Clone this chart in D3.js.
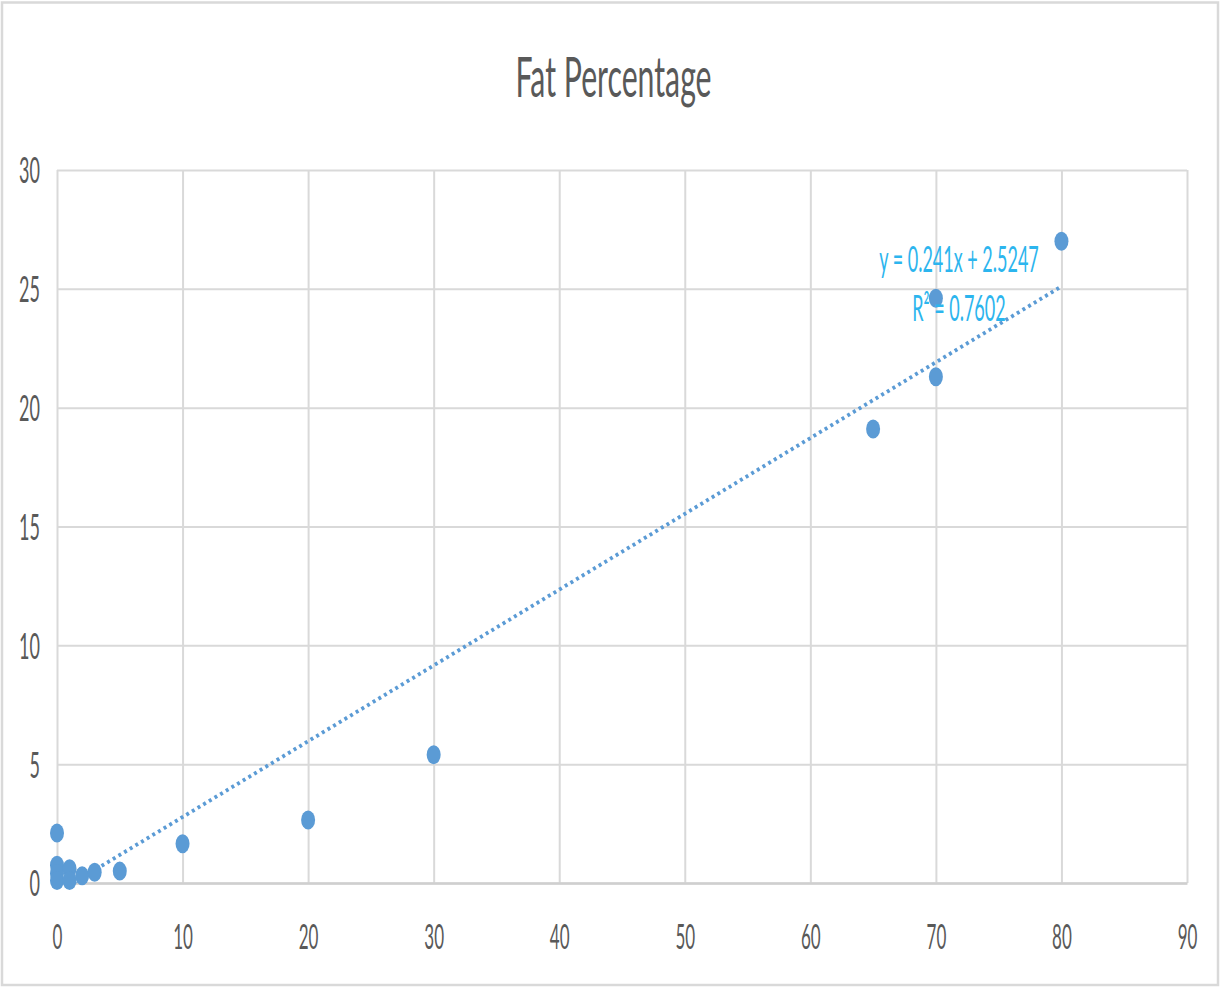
<!DOCTYPE html>
<html>
<head>
<meta charset="utf-8">
<script src="https://cdn.jsdelivr.net/npm/d3@7"></script>
<style>
  html, body { margin: 0; padding: 0; background: #fff; }
  svg { display: block; }
  text { font-family: Lato, "Open Sans", sans-serif; }
</style>
</head>
<body>
<svg id="chart" width="1221" height="987"></svg>
<script>
// ---- data ----
const title = "Fat Percentage";
const xValues = [0, 0, 0, 0, 1, 1, 2, 3, 5, 10, 20, 30, 65, 70, 70, 80];
const yValues = [2.1, 0.75, 0.4, 0.1, 0.6, 0.1, 0.3, 0.45, 0.5, 1.65, 2.65, 5.4, 19.1, 21.3, 24.6, 27.0];
const xTicks = [0, 10, 20, 30, 40, 50, 60, 70, 80, 90];
const yTicks = [0, 5, 10, 15, 20, 25, 30];
const trendX = [1.3, 80];
const trendY = [0.0, 25.1];
const equationLines = ["y = 0.241x + 2.5247", "R\u00b2 = 0.7602"];
const equationAnchor = [72, 25.2];

// ---- layout ----
const W = 1221, H = 987;
const margin = { left: 57, right: 34, top: 170, bottom: 104 };
const sx = 0.5; // horizontal text compression seen in the reference
const svg = d3.select("#chart");

svg.append("rect")
  .attr("x", 2).attr("y", 2.5).attr("width", W - 5).attr("height", H - 4.5)
  .attr("fill", "#fff").attr("stroke", "#d9d9d9").attr("stroke-width", 2.5);

const x = d3.scaleLinear().domain([0, 90]).range([margin.left, W - margin.right]);
const y = d3.scaleLinear().domain([0, 30]).range([H - margin.bottom, margin.top]);

// gridlines
svg.append("g")
  .attr("transform", `translate(${margin.left},0)`)
  .call(d3.axisLeft(y).tickValues(yTicks).tickSize(-(x.range()[1] - x.range()[0])).tickFormat(""))
  .call(g => g.select(".domain").remove())
  .call(g => g.selectAll("line").attr("stroke", "#d9d9d9").attr("stroke-width", 2));
svg.append("g")
  .attr("transform", `translate(0,${y(0)})`)
  .call(d3.axisBottom(x).tickValues(xTicks).tickSize(-(y.range()[0] - y.range()[1])).tickFormat(""))
  .call(g => g.select(".domain").remove())
  .call(g => g.selectAll("line").attr("stroke", "#d9d9d9").attr("stroke-width", 2));

// bottom axis line
svg.append("g")
  .attr("transform", `translate(0,${y(0)})`)
  .call(d3.axisBottom(x).tickValues([]).tickSizeOuter(0))
  .call(g => g.select(".domain").attr("stroke", "#cfcfcf").attr("stroke-width", 2.5));

// y tick labels
svg.append("g")
  .attr("transform", `translate(${margin.left},0)`)
  .call(d3.axisLeft(y).tickValues(yTicks).tickSize(0).tickPadding(0))
  .call(g => g.select(".domain").remove())
  .call(g => g.selectAll("text")
    .attr("x", -17 / sx)
    .attr("dy", "0.36em")
    .attr("transform", `scale(${sx},1)`)
    .attr("fill", "#595959")
    .style("font-size", "36px"));

// x tick labels
svg.append("g")
  .attr("transform", `translate(0,${y(0)})`)
  .call(d3.axisBottom(x).tickValues(xTicks).tickSize(0).tickPadding(0))
  .call(g => g.select(".domain").remove())
  .call(g => g.selectAll(".tick").each(function () {
    const t = d3.select(this).select("text");
    t.attr("y", 0).attr("dy", 0)
     .attr("transform", `translate(0,66) scale(${sx},1)`)
     .attr("fill", "#595959")
     .style("font-size", "34px");
  }));

// trendline
svg.append("path")
  .datum(trendX.map((d, i) => [d, trendY[i]]))
  .attr("d", d3.line().x(d => x(d[0])).y(d => y(d[1])))
  .attr("fill", "none")
  .attr("stroke", "#5b9bd5")
  .attr("stroke-width", 3.8)
  .attr("stroke-dasharray", "3 3.6");

// points
svg.append("g").selectAll("ellipse")
  .data(xValues.map((d, i) => [d, yValues[i]]))
  .join("ellipse")
  .attr("cx", d => x(d[0]))
  .attr("cy", d => y(d[1]))
  .attr("rx", 7)
  .attr("ry", 9.5)
  .attr("fill", "#5b9bd5");

// equation label
svg.append("g").selectAll("text")
  .data(equationLines)
  .join("text")
  .attr("transform", (d, i) => `translate(${x(equationAnchor[0]) - 2},${y(equationAnchor[1]) - 12 + i * 49}) scale(${sx},1)`)
  .attr("text-anchor", "middle")
  .attr("fill", "#2cb5ee")
  .style("font-size", "36px")
  .text(d => d);

// title
svg.append("text")
  .attr("transform", `translate(${(W) / 2 + 3},97) scale(0.54,1)`)
  .attr("text-anchor", "middle")
  .attr("fill", "#595959")
  .style("font-size", "56px")
  .text(title);
</script>
</body>
</html>
